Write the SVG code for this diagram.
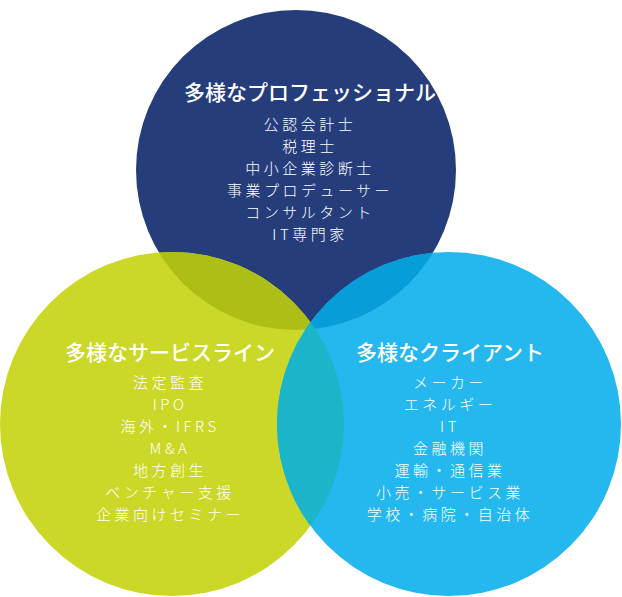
<svg xmlns="http://www.w3.org/2000/svg" width="622" height="597" viewBox="0 0 622 597">
<style>
.t{font-family:"Noto Sans CJK JP","Noto Sans",sans-serif;fill:#fff;text-anchor:middle}
.h{font-size:21px;font-weight:500}
.i{font-size:15px;letter-spacing:3.5px;font-weight:300}
</style>
<defs>
<clipPath id="cT"><circle cx="296" cy="170" r="160"/></clipPath>
<clipPath id="cL"><circle cx="172" cy="424" r="172"/></clipPath>
</defs>
<g id="circles">
<circle cx="296" cy="170" r="160" fill="#263d7c"/>
<circle cx="172" cy="424" r="172" fill="#cbd828"/>
<circle cx="449" cy="424" r="172" fill="#25b8ee"/>
<circle cx="172" cy="424" r="172" fill="#adbf16" clip-path="url(#cT)"/>
<circle cx="449" cy="424" r="172" fill="#079dd8" clip-path="url(#cT)"/>
<circle cx="449" cy="424" r="172" fill="#1bb4c8" clip-path="url(#cL)"/>
</g>
<g id="professional" class="t">
<text x="310" y="100" class="h">多様なプロフェッショナル</text>
<text x="310" y="130" class="i">公認会計士</text>
<text x="310" y="152" class="i">税理士</text>
<text x="310" y="174" class="i">中小企業診断士</text>
<text x="310" y="196" class="i">事業プロデューサー</text>
<text x="310" y="218" class="i">コンサルタント</text>
<text x="310" y="240" class="i">IT専門家</text>
</g>
<g id="serviceline" class="t">
<text x="170" y="360" class="h">多様なサービスライン</text>
<text x="170" y="388" class="i">法定監査</text>
<text x="170" y="410" class="i">IPO</text>
<text x="170" y="432" class="i">海外・IFRS</text>
<text x="170" y="454" class="i">M&amp;A</text>
<text x="170" y="476" class="i">地方創生</text>
<text x="170" y="498" class="i">ベンチャー支援</text>
<text x="170" y="520" class="i">企業向けセミナー</text>
</g>
<g id="client" class="t">
<text x="450" y="360" class="h">多様なクライアント</text>
<text x="450" y="388" class="i">メーカー</text>
<text x="450" y="410" class="i">エネルギー</text>
<text x="450" y="432" class="i">IT</text>
<text x="450" y="454" class="i">金融機関</text>
<text x="450" y="476" class="i">運輸・通信業</text>
<text x="450" y="498" class="i">小売・サービス業</text>
<text x="450" y="520" class="i">学校・病院・自治体</text>
</g>
</svg>
